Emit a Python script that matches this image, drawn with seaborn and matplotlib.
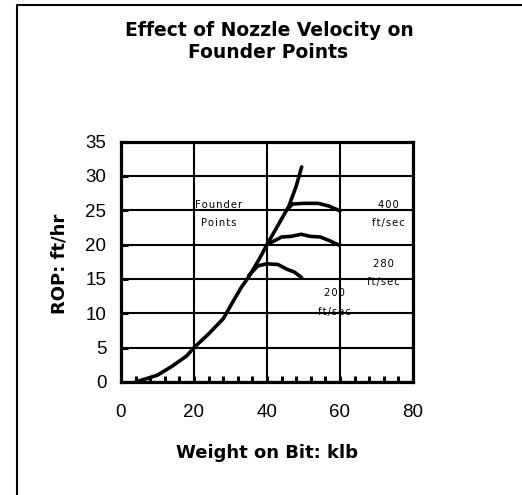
import pandas as pd
import seaborn as sns
import matplotlib.pyplot as plt
from matplotlib.lines import Line2D
from matplotlib.ticker import MultipleLocator

# curve data (weight on bit in klb, ROP in ft/hr)
founder_wob = [4, 10, 14, 18, 20, 24, 28, 31, 33, 35, 38, 40, 43, 46, 48, 49.5]
founder_rop = [0, 1, 2.3, 3.8, 5, 7, 9.2, 12, 13.8, 15.3, 18, 20, 22.8, 25.6, 28.5, 31.3]
v400_wob = [45.5, 47, 50, 54, 57, 60]
v400_rop = [25.1, 25.9, 26, 26, 25.6, 24.9]
v280_wob = [40, 44, 46.7, 49.4, 51.8, 54.6, 57, 59.8]
v280_rop = [20, 21.1, 21.2, 21.5, 21.2, 21.1, 20.6, 19.9]
v200_wob = [35, 37.5, 40, 43, 45.5, 47.5, 49.5]
v200_rop = [15.5, 16.9, 17.2, 17.1, 16.4, 16.0, 15.2]

frames = []
for name, xs, ys in [('founder', founder_wob, founder_rop),
                     ('400', v400_wob, v400_rop),
                     ('280', v280_wob, v280_rop),
                     ('200', v200_wob, v200_rop)]:
    frames.append(pd.DataFrame({'wob': xs, 'rop': ys, 'curve': name}))
df = pd.concat(frames, ignore_index=True)

sns.set_style('white')
plt.rcParams['font.family'] = ['Liberation Sans', 'DejaVu Sans']
for k in ['text.color', 'axes.labelcolor', 'xtick.color', 'ytick.color']:
    plt.rcParams[k] = 'black'

fig = plt.figure(figsize=(5.22, 4.95), dpi=100)
ax = fig.add_axes([121 / 522, 1 - 382 / 495, 292 / 522, 240.5 / 495])

sns.lineplot(data=df, x='wob', y='rop', units='curve', estimator=None,
             sort=False, color='black', lw=2.6, ax=ax, zorder=5)

ax.set_xlim(0, 80)
ax.set_ylim(0, 35)
ax.xaxis.set_major_locator(MultipleLocator(20))
ax.xaxis.set_minor_locator(MultipleLocator(4))
ax.yaxis.set_major_locator(MultipleLocator(5))
ax.grid(True, which='major', color='black', lw=1.5)
ax.set_axisbelow(True)
for s in ax.spines.values():
    s.set_visible(True)
    s.set_color('black')
    s.set_linewidth(2.3)

ax.tick_params(axis='x', which='both', direction='in', bottom=True, top=False,
               length=4.5, width=2.2, labelsize=13.5, pad=15.5)
ax.tick_params(axis='y', which='major', direction='in', left=True, right=False,
               length=5, width=2.2, labelsize=13.5, pad=10.5)

bold = dict(family='DejaVu Sans', fontweight='bold')
ax.set_xlabel('Weight on Bit: klb', fontsize=13, **bold)
ax.set_ylabel('ROP: ft/hr', fontsize=13, **bold)
ax.xaxis.label.set_va('baseline')
ax.xaxis.set_label_coords(0.5, -0.314)
ax.yaxis.label.set_va('center')
ax.yaxis.set_label_coords(-0.209, 0.491)

hs = '\u200a'
small = dict(fontsize=7.2, family='DejaVu Sans', color='black', zorder=6)
ax.text(20.3, 25.7, hs.join('Founder'), ha='left', va='center', **small)
ax.text(22.0, 23.2, hs.join('Points'), ha='left', va='center', **small)
ax.text(73.3, 25.7, hs.join('400'), ha='center', va='center', **small)
ax.text(73.3, 23.2, hs.join('ft/sec'), ha='center', va='center', **small)
ax.text(72.0, 17.1, hs.join('280'), ha='center', va='center', **small)
ax.text(72.0, 14.5, hs.join('ft/sec'), ha='center', va='center', **small)
ax.text(58.5, 12.9, hs.join('200'), ha='center', va='center', **small)
ax.text(58.5, 10.2, hs.join('ft/sec'), ha='center', va='center', **small)

fig.text(269 / 522, 1 - 36 / 495, 'Effect of Nozzle Velocity on',
         ha='center', va='baseline', fontsize=13.5, **bold)
fig.text(268 / 522, 1 - 58.3 / 495, 'Founder Points',
         ha='center', va='baseline', fontsize=13.5, **bold)

# partial outer frame (top and left edges)
fig.add_artist(Line2D([16.5 / 522, 16.5 / 522, 1.0], [0.0, 1 - 5 / 495, 1 - 5 / 495],
                      transform=fig.transFigure, color='black', lw=1.5))

fig.savefig('out.png', dpi=100)
